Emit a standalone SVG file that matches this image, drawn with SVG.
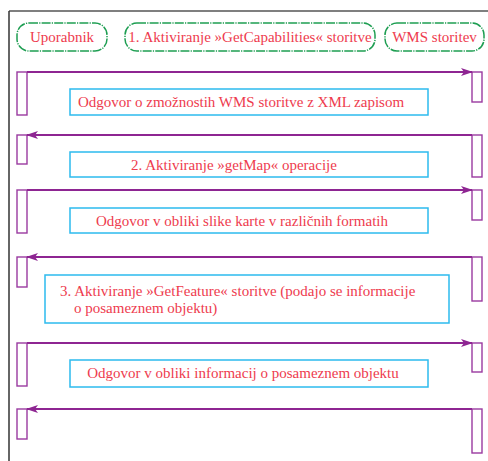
<svg xmlns="http://www.w3.org/2000/svg" width="488" height="461" viewBox="0 0 488 461">
<style>
.t{font-family:"Liberation Serif","Times New Roman",serif;font-size:15px;fill:#ee3b4e}
.hd{fill:#fff;stroke:#1e9e52;stroke-width:1.5;stroke-dasharray:9 1.2 1.2 1.2}
.bx{fill:#fff;stroke:#2dbbee;stroke-width:1.5}
.bar{fill:#fff;stroke:#9a3aa0;stroke-width:1.4}
.msg{stroke:#8e2592;stroke-width:2;fill:none}
</style>
<defs>
<marker id="ah" viewBox="0 0 12 10" refX="11" refY="5" markerWidth="12" markerHeight="10" markerUnits="userSpaceOnUse" orient="auto">
<path d="M0,1 L12,5 L0,9 L3,5 z" fill="#8e2592"/>
</marker>
</defs>
<rect width="488" height="461" fill="#fff"/>
<g id="frame" stroke="#333" stroke-width="1.5" fill="none">
<line x1="9" y1="11" x2="488" y2="11" stroke="#555"/>
<line x1="9" y1="11" x2="9" y2="461"/>
</g>
<g id="uporabnik"><rect class="hd" x="17" y="23" width="90" height="28" rx="12"/><text class="t" x="62" y="42" text-anchor="middle">Uporabnik</text></g>
<g id="aktiviranje1"><rect class="hd" x="125" y="23" width="250" height="28" rx="12"/><text class="t" x="250" y="42" text-anchor="middle">1. Aktiviranje »GetCapabilities« storitve</text></g>
<g id="wms"><rect class="hd" x="385" y="23" width="99" height="28" rx="12"/><text class="t" x="434.5" y="42" text-anchor="middle">WMS storitev</text></g>
<g id="bars">
<rect class="bar" x="17" y="72" width="10" height="43"/>
<rect class="bar" x="472" y="72" width="10" height="30"/>
<rect class="bar" x="17" y="135" width="10" height="29"/>
<rect class="bar" x="472" y="135" width="10" height="42"/>
<rect class="bar" x="17" y="190" width="10" height="43"/>
<rect class="bar" x="472" y="190" width="10" height="30"/>
<rect class="bar" x="17" y="257" width="10" height="30"/>
<rect class="bar" x="472" y="257" width="10" height="44"/>
<rect class="bar" x="17" y="343" width="10" height="43"/>
<rect class="bar" x="472" y="343" width="10" height="29"/>
<rect class="bar" x="17" y="409" width="10" height="30"/>
<rect class="bar" x="472" y="409" width="10" height="44"/>
</g>
<g id="connectors">
<line class="msg" x1="27" y1="72" x2="472" y2="72" marker-end="url(#ah)"/>
<line class="msg" x1="472" y1="135" x2="27" y2="135" marker-end="url(#ah)"/>
<line class="msg" x1="27" y1="190" x2="472" y2="190" marker-end="url(#ah)"/>
<line class="msg" x1="472" y1="257" x2="27" y2="257" marker-end="url(#ah)"/>
<line class="msg" x1="27" y1="343" x2="472" y2="343" marker-end="url(#ah)"/>
<line class="msg" x1="472" y1="409" x2="27" y2="409" marker-end="url(#ah)"/>
</g>
<g id="odgovor1"><rect class="bx" x="70" y="89" width="358" height="26"/><text class="t" x="241" y="107" text-anchor="middle">Odgovor o zmožnostih WMS storitve z XML zapisom</text></g>
<g id="aktiviranje2"><rect class="bx" x="70" y="152" width="358" height="25"/><text class="t" x="234" y="170" text-anchor="middle">2. Aktiviranje »getMap« operacije</text></g>
<g id="odgovor2"><rect class="bx" x="70" y="208" width="358" height="25"/><text class="t" x="242" y="226" text-anchor="middle">Odgovor v obliki slike karte v različnih formatih</text></g>
<g id="aktiviranje3"><rect class="bx" x="45" y="275" width="404" height="48"/><text class="t" x="60" y="296">3. Aktiviranje »GetFeature« storitve (podajo se informacije</text><text class="t" x="74" y="313">o posameznem objektu)</text></g>
<g id="odgovor3"><rect class="bx" x="70" y="360" width="358" height="27"/><text class="t" x="243" y="378" text-anchor="middle">Odgovor v obliki informacij o posameznem objektu</text></g>
</svg>
